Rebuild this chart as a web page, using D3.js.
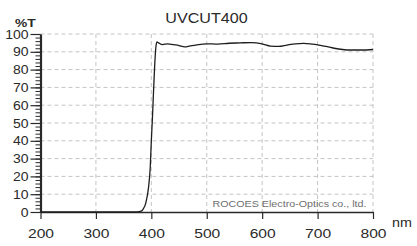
<!DOCTYPE html>
<html>
<head>
<meta charset="utf-8">
<script src="https://cdn.jsdelivr.net/npm/d3@7"></script>
<style>
  body { margin: 0; background: #fff; }
  svg { display: block; font-family: "Liberation Sans", Arial, sans-serif; }
</style>
</head>
<body>
<svg id="chart" width="417" height="246"></svg>
<script>
//DATA//////////////////////////////
const wavelength = [200, 300, 370, 380, 385, 390, 395, 398, 400, 402, 404, 406, 408, 410, 413, 420, 430, 440, 450, 460, 470, 480, 490, 500, 520, 540, 560, 580, 600, 615, 630, 645, 660, 675, 690, 700, 715, 730, 745, 760, 780, 800];
const transmission = [0, 0, 0, 0.3, 1.5, 5, 14, 25, 40, 53, 68, 82, 92, 95.5, 95, 94, 94.5, 94, 93.5, 92.8, 93.3, 93.8, 94.2, 94.5, 94.3, 94.8, 95, 95.2, 94.5, 93.2, 93, 93.8, 94.5, 94.7, 94.3, 93.9, 93, 92, 91.3, 91, 91, 91.3];
const xTicks = [200, 300, 400, 500, 600, 700, 800];
const yTicks = [0, 10, 20, 30, 40, 50, 60, 70, 80, 90, 100];
const yMinor = d3.range(0, 101, 2);
const chartTitle = "UVCUT400";
const yTitle = "%T";
const xTitle = "nm";
const credit = "ROCOES Electro-Optics co., ltd.";

//LAYOUT////////////////////////////
const plotL = 40.5, plotR = 373, plotT = 34, plotB = 212;
const svg = d3.select("#chart");
const x = d3.scaleLinear().domain([200, 800]).range([plotL, plotR]);
const y = d3.scaleLinear().domain([0, 100]).range([plotB, plotT]);
const ink = "#2a2a2a";

// stretch text a little wider, like the source picture
function stretch(sel, k) {
  sel.each(function () {
    const w = this.getComputedTextLength();
    d3.select(this).attr("textLength", w * k).attr("lengthAdjust", "spacingAndGlyphs");
  });
}

//GRID//////////////////////////////
svg.append("g")
  .selectAll("line")
  .data(yTicks.slice(1))
  .join("line")
  .attr("x1", plotL).attr("x2", plotR)
  .attr("y1", d => y(d)).attr("y2", d => y(d))
  .attr("stroke", "#c4c4c4").attr("stroke-dasharray", "4,3");
svg.append("g")
  .selectAll("line")
  .data(xTicks.slice(1))
  .join("line")
  .attr("x1", d => x(d)).attr("x2", d => x(d))
  .attr("y1", plotT).attr("y2", plotB)
  .attr("stroke", "#c4c4c4").attr("stroke-dasharray", "4,3");

//CREDIT////////////////////////////
svg.append("text")
  .attr("x", 212.5).attr("y", 206.5)
  .attr("font-size", 9)
  .attr("fill", "#6e6e6e")
  .attr("textLength", 154).attr("lengthAdjust", "spacingAndGlyphs")
  .text(credit);

//AXES//////////////////////////////
const xAxis = svg.append("g")
  .attr("transform", `translate(0,${plotB})`)
  .call(d3.axisBottom(x).tickValues(xTicks).tickSizeInner(7).tickSizeOuter(0).tickPadding(10));
xAxis.select(".domain").attr("stroke", ink).attr("stroke-width", 1.4);
xAxis.selectAll(".tick line").attr("stroke", ink).attr("stroke-width", 1.2);
xAxis.selectAll("text").attr("font-size", 13).attr("fill", ink).call(stretch, 1.2);

svg.append("g")
  .attr("transform", `translate(${plotL},0)`)
  .call(d3.axisLeft(y).tickValues(yMinor).tickSize(5).tickFormat(""))
  .call(g => g.select(".domain").remove())
  .selectAll(".tick line").attr("stroke", ink);

const yAxis = svg.append("g")
  .attr("transform", `translate(${plotL},0)`)
  .call(d3.axisLeft(y).tickValues(yTicks).tickSizeInner(10).tickSizeOuter(0).tickPadding(2));
yAxis.select(".domain").attr("stroke", ink).attr("stroke-width", 2.2);
yAxis.selectAll(".tick line").attr("stroke", ink).attr("stroke-width", 1.2);
yAxis.selectAll("text").attr("font-size", 12.5).attr("fill", ink).call(stretch, 1.12);

//CURVE/////////////////////////////
const line = d3.line()
  .x((d, i) => x(wavelength[i]))
  .y(d => y(d))
  .curve(d3.curveMonotoneX);
svg.append("path")
  .datum(transmission)
  .attr("d", line)
  .attr("fill", "none")
  .attr("stroke", "#1e1e1e")
  .attr("stroke-width", 1.3);

//TITLES////////////////////////////
svg.append("text")
  .attr("x", 206.5).attr("y", 23)
  .attr("text-anchor", "middle")
  .attr("font-size", 14)
  .attr("fill", ink)
  .text(chartTitle)
  .call(stretch, 1.15);
svg.append("text")
  .attr("x", 15).attr("y", 26.5)
  .attr("font-size", 11.5)
  .attr("font-weight", "bold")
  .attr("fill", ink)
  .text(yTitle)
  .call(stretch, 1.2);
svg.append("text")
  .attr("x", 392).attr("y", 226.5)
  .attr("font-size", 13)
  .attr("fill", ink)
  .text(xTitle)
  .call(stretch, 1.1);
</script>
</body>
</html>
